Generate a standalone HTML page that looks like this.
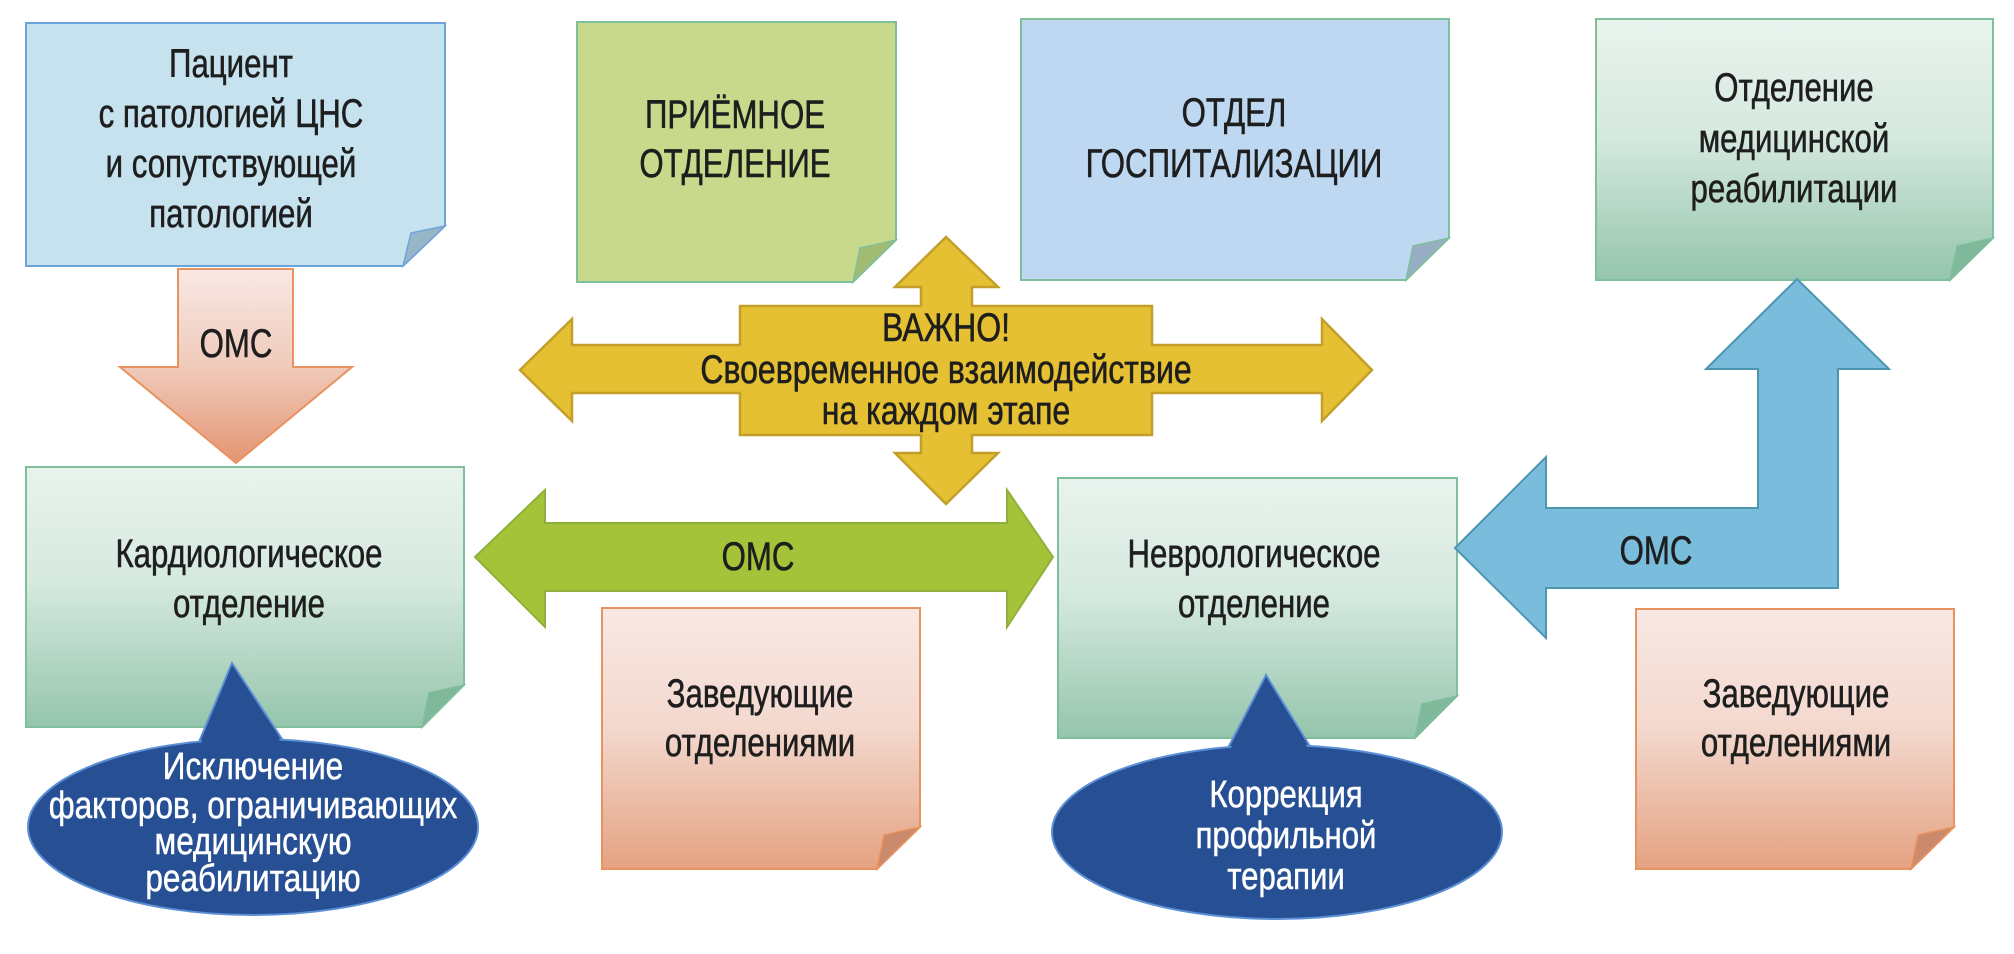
<!DOCTYPE html>
<html><head><meta charset="utf-8"><style>html,body{margin:0;padding:0;background:#fff;}svg{display:block}</style></head>
<body>
<svg width="2014" height="954" viewBox="0 0 2014 954" xmlns="http://www.w3.org/2000/svg" font-family="'Liberation Sans', 'DejaVu Sans', sans-serif">
<defs>
<linearGradient id="gg" x1="0" y1="0" x2="0" y2="1"><stop offset="0" stop-color="#e9f3ee"/><stop offset="0.45" stop-color="#d5e9df"/><stop offset="1" stop-color="#95c5ad"/></linearGradient>
<linearGradient id="cg" x1="0" y1="0" x2="0" y2="1"><stop offset="0" stop-color="#f8e8e4"/><stop offset="0.45" stop-color="#f3d9cf"/><stop offset="1" stop-color="#e5a282"/></linearGradient>
<linearGradient id="ag" x1="0" y1="0" x2="0" y2="1"><stop offset="0" stop-color="#f8e8e4"/><stop offset="0.5" stop-color="#f0cbbb"/><stop offset="1" stop-color="#e49572"/></linearGradient>
</defs>
<style>
.t{font-size:40px;fill:#1e1e1e;stroke:#1e1e1e;stroke-width:0.6px;text-anchor:middle}
.w{font-size:38px;fill:#fff;stroke:#fff;stroke-width:0.5px;text-anchor:middle}
</style>

<!-- Patient -->
<path d="M26,23 H445 V226 L403,266 H26 Z" fill="#c7e2ef" stroke="#6fa3dc" stroke-width="2"/>
<path d="M445,226 L411,233 L403,266 Z" fill="#97b6c6" stroke="#6fa3dc" stroke-width="1.5"/>
<g transform="translate(231,0) scale(0.78,1)"><text x="0" y="77" class="t">Пациент</text><text x="0" y="127" class="t">с патологией ЦНС</text><text x="0" y="177" class="t">и сопутствующей</text><text x="0" y="227" class="t">патологией</text></g>

<!-- Priemnoe -->
<path d="M577,22 H896 V240 L853,282 H577 Z" fill="#c9d98b" stroke="#7fbf9b" stroke-width="2"/>
<path d="M896,240 L860,248 L853,282 Z" fill="#a1bb72" stroke="#7fbf9b" stroke-width="1.5"/>
<g transform="translate(735,0) scale(0.78,1)"><text x="0" y="128" class="t">ПРИЁМНОЕ</text><text x="0" y="177" class="t">ОТДЕЛЕНИЕ</text></g>

<!-- Otdel gospit -->
<path d="M1021,19 H1449 V238 L1406,280 H1021 Z" fill="#bed8f1" stroke="#7fbf9b" stroke-width="2"/>
<path d="M1449,238 L1413,246 L1406,280 Z" fill="#97adc4" stroke="#7fbf9b" stroke-width="1.5"/>
<g transform="translate(1234,0) scale(0.78,1)"><text x="0" y="126" class="t">ОТДЕЛ</text><text x="0" y="177" class="t">ГОСПИТАЛИЗАЦИИ</text></g>

<!-- Rehab -->
<path d="M1596,19 H1993 V238 L1950,280 H1596 Z" fill="url(#gg)" stroke="#7fbf9b" stroke-width="2"/>
<path d="M1993,238 L1957,246 L1950,280 Z" fill="#7fb89a" stroke="#7fbf9b" stroke-width="1.5"/>
<g transform="translate(1794,0) scale(0.78,1)"><text x="0" y="101" class="t">Отделение</text><text x="0" y="152" class="t">медицинской</text><text x="0" y="202" class="t">реабилитации</text></g>

<!-- OMS down arrow -->
<path d="M178,269 H293 V367 H352 L236,463 L120,367 H178 Z" fill="url(#ag)" stroke="#e8925f" stroke-width="2"/>
<g transform="translate(236,0) scale(0.78,1)"><text x="0" y="357" class="t">ОМС</text></g>

<!-- Yellow cross -->
<path d="M946,237 L998,287 H972 V306 H1152 V345 H1322 V319 L1372,370 L1322,421 V393 H1152 V435 H972 V453 H998 L946,504 L895,453 H921 V435 H740 V393 H572 V421 L520,370 L572,319 V345 H740 V306 H921 V287 H895 Z" fill="#e4c032" stroke="#c39f2a" stroke-width="2.5"/>
<g transform="translate(946,0) scale(0.8,1)"><text x="0" y="341" class="t">ВАЖНО!</text><text x="0" y="383" class="t">Своевременное взаимодействие</text><text x="0" y="424" class="t">на каждом этапе</text></g>

<!-- Kardio -->
<path d="M26,467 H464 V685 L422,727 H26 Z" fill="url(#gg)" stroke="#7fbf9b" stroke-width="2"/>
<path d="M464,685 L429,693 L422,727 Z" fill="#7fb89a" stroke="#7fbf9b" stroke-width="1.5"/>
<g transform="translate(249,0) scale(0.78,1)"><text x="0" y="567" class="t">Кардиологическое</text><text x="0" y="617" class="t">отделение</text></g>

<!-- Green arrow -->
<path d="M475,557 L545,490 V523 H1007 V490 L1053,557 L1007,627 V591 H545 V627 Z" fill="#a4c339" stroke="#8fb03a" stroke-width="2"/>
<g transform="translate(758,0) scale(0.78,1)"><text x="0" y="570" class="t">ОМС</text></g>

<!-- Zaved1 -->
<path d="M602,608 H920 V827 L877,869 H602 Z" fill="url(#cg)" stroke="#e8925f" stroke-width="2"/>
<path d="M920,827 L884,835 L877,869 Z" fill="#cc8a6c" stroke="#e8925f" stroke-width="1.5"/>
<g transform="translate(760,0) scale(0.78,1)"><text x="0" y="707" class="t">Заведующие</text><text x="0" y="756" class="t">отделениями</text></g>

<!-- Nevro -->
<path d="M1058,478 H1457 V696 L1415,738 H1058 Z" fill="url(#gg)" stroke="#7fbf9b" stroke-width="2"/>
<path d="M1457,696 L1422,704 L1415,738 Z" fill="#7fb89a" stroke="#7fbf9b" stroke-width="1.5"/>
<g transform="translate(1254,0) scale(0.78,1)"><text x="0" y="567" class="t">Неврологическое</text><text x="0" y="617" class="t">отделение</text></g>

<!-- Blue arrow -->
<path d="M1455,548 L1546,457 V508 H1758 V369 H1706 L1797,279 L1889,369 H1838 V588 H1546 V638 Z" fill="#79bcdc" stroke="#4e95b0" stroke-width="2"/>
<g transform="translate(1656,0) scale(0.78,1)"><text x="0" y="564" class="t">ОМС</text></g>

<!-- Zaved2 -->
<path d="M1636,609 H1954 V827 L1911,869 H1636 Z" fill="url(#cg)" stroke="#e8925f" stroke-width="2"/>
<path d="M1954,827 L1918,835 L1911,869 Z" fill="#cc8a6c" stroke="#e8925f" stroke-width="1.5"/>
<g transform="translate(1796,0) scale(0.78,1)"><text x="0" y="707" class="t">Заведующие</text><text x="0" y="756" class="t">отделениями</text></g>

<!-- Callout left -->
<path d="M232,663 L284,742 L199,742 Z" fill="#274f94" stroke="#5b8fd6" stroke-width="2"/>
<ellipse cx="253" cy="827" rx="225" ry="88" fill="#274f94" stroke="#5b8fd6" stroke-width="2"/>
<path d="M232,665 L282,744 L201,744 Z" fill="#274f94"/>
<g transform="translate(253,0) scale(0.83,1)"><text x="0" y="779" class="w">Исключение</text><text x="0" y="818" class="w">факторов, ограничивающих</text><text x="0" y="854" class="w">медицинскую</text><text x="0" y="891" class="w">реабилитацию</text></g>

<!-- Callout right -->
<path d="M1266,675 L1311,748 L1228,748 Z" fill="#274f94" stroke="#5b8fd6" stroke-width="2"/>
<ellipse cx="1277" cy="832" rx="225" ry="87" fill="#274f94" stroke="#5b8fd6" stroke-width="2"/>
<path d="M1266,677 L1309,750 L1230,750 Z" fill="#274f94"/>
<g transform="translate(1286,0) scale(0.82,1)"><text x="0" y="807" class="w">Коррекция</text><text x="0" y="848" class="w">профильной</text><text x="0" y="889" class="w">терапии</text></g>
</svg>
</body></html>
